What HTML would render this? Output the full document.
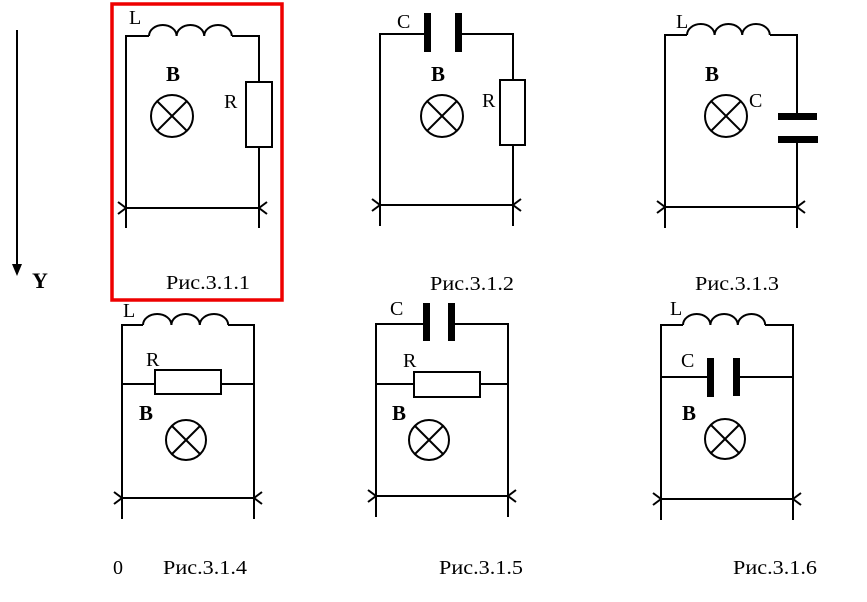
<!DOCTYPE html>
<html><head><meta charset="utf-8"><style>
html,body{margin:0;padding:0;background:#fff;}
svg{display:block;}
text{font-family:"Liberation Serif",serif;fill:#000;}
.lbl{font-size:20px;}
.b{font-size:21px;font-weight:bold;}
.cap{font-size:20px;}
</style></head><body>
<svg width="867" height="602" viewBox="0 0 867 602" xmlns="http://www.w3.org/2000/svg">
<g stroke="#000" stroke-width="2" fill="none">
<line x1="17" y1="30" x2="17" y2="266"/>
</g>
<polygon points="12,264 22,264 17,276" fill="#000"/>
<text x="32" y="288" class="b" style="font-size:22px">Y</text>

<rect x="112" y="4" width="170" height="296" fill="none" stroke="#e00" stroke-width="3.5"/>

<g stroke="#000" stroke-width="2" fill="none">
<path d="M126,228 V36 H149 M232,36 H259 V82 M259,147 V228"/>
<path d="M149,36 a13.8,11 0 0 1 27.6,0 a13.8,11 0 0 1 27.6,0 a13.8,11 0 0 1 27.6,0"/>
<rect x="246" y="82" width="26" height="65"/>
<line x1="126" y1="208" x2="259" y2="208"/>
<path d="M118,202 L126,208 L118,214 M267,202 L259,208 L267,214"/>
<circle cx="172" cy="116" r="21"/>
<path d="M157,101 L187,131 M187,101 L157,131"/>

<path d="M380,226 V34 H427 M457,34 H513 V80 M513,145 V226"/>
<rect x="500" y="80" width="25" height="65"/>
<line x1="380" y1="205" x2="513" y2="205"/>
<path d="M372,199 L380,205 L372,211 M521,199 L513,205 L521,211"/>
<circle cx="442" cy="116" r="21"/>
<path d="M427,101 L457,131 M457,101 L427,131"/>

<path d="M665,228 V35 H687 M770,35 H797 V116 M797,139 V228"/>
<path d="M687,35 a13.8,11 0 0 1 27.6,0 a13.8,11 0 0 1 27.6,0 a13.8,11 0 0 1 27.6,0"/>
<line x1="665" y1="207" x2="797" y2="207"/>
<path d="M657,201 L665,207 L657,213 M805,201 L797,207 L805,213"/>
<circle cx="726" cy="116" r="21"/>
<path d="M711,101 L741,131 M741,101 L711,131"/>

<path d="M122,519 V325 H143 M228,325 H254 V519"/>
<path d="M143,325 a14.2,11 0 0 1 28.4,0 a14.2,11 0 0 1 28.4,0 a14.2,11 0 0 1 28.4,0"/>
<path d="M122,384 H155 M221,384 H254"/>
<rect x="155" y="370" width="66" height="24"/>
<line x1="122" y1="498" x2="254" y2="498"/>
<path d="M114,492 L122,498 L114,504 M262,492 L254,498 L262,504"/>
<circle cx="186" cy="440" r="20"/>
<path d="M172,426 L200,454 M200,426 L172,454"/>

<path d="M376,517 V324 H426 M452,324 H508 V517"/>
<path d="M376,384 H414 M480,384 H508"/>
<rect x="414" y="372" width="66" height="25"/>
<line x1="376" y1="496" x2="508" y2="496"/>
<path d="M368,490 L376,496 L368,502 M516,490 L508,496 L516,502"/>
<circle cx="429" cy="440" r="20"/>
<path d="M415,426 L443,454 M443,426 L415,454"/>

<path d="M661,520 V325 H683 M765,325 H793 V520"/>
<path d="M683,325 a13.7,11 0 0 1 27.4,0 a13.7,11 0 0 1 27.4,0 a13.7,11 0 0 1 27.4,0"/>
<path d="M661,377 H709 M736,377 H793"/>
<line x1="661" y1="499" x2="793" y2="499"/>
<path d="M653,493 L661,499 L653,505 M801,493 L793,499 L801,505"/>
<circle cx="725" cy="439" r="20"/>
<path d="M711,425 L739,453 M739,425 L711,453"/>
</g>

<g fill="#000">
<rect x="424" y="13" width="7" height="39"/>
<rect x="455" y="13" width="7" height="39"/>
<rect x="778" y="113" width="39" height="7"/>
<rect x="778" y="136" width="40" height="7"/>
<rect x="423" y="303" width="7" height="38"/>
<rect x="448" y="303" width="7" height="38"/>
<rect x="707" y="358" width="7" height="39"/>
<rect x="733" y="358" width="7" height="38"/>
</g>

<text x="129" y="24" class="lbl">L</text>
<text x="166" y="81" class="b">B</text>
<text x="224" y="108" class="lbl">R</text>
<text x="166" y="289" class="cap" textLength="84" lengthAdjust="spacingAndGlyphs">Рис.3.1.1</text>

<text x="397" y="28" class="lbl">C</text>
<text x="431" y="81" class="b">B</text>
<text x="482" y="107" class="lbl">R</text>
<text x="430" y="290" class="cap" textLength="84" lengthAdjust="spacingAndGlyphs">Рис.3.1.2</text>

<text x="676" y="28" class="lbl">L</text>
<text x="705" y="81" class="b">B</text>
<text x="749" y="107" class="lbl">C</text>
<text x="695" y="290" class="cap" textLength="84" lengthAdjust="spacingAndGlyphs">Рис.3.1.3</text>

<text x="123" y="317" class="lbl">L</text>
<text x="146" y="366" class="lbl">R</text>
<text x="139" y="420" class="b">B</text>
<text x="113" y="574" class="cap">0</text>
<text x="163" y="574" class="cap" textLength="84" lengthAdjust="spacingAndGlyphs">Рис.3.1.4</text>

<text x="390" y="315" class="lbl">C</text>
<text x="403" y="367" class="lbl">R</text>
<text x="392" y="420" class="b">B</text>
<text x="439" y="574" class="cap" textLength="84" lengthAdjust="spacingAndGlyphs">Рис.3.1.5</text>

<text x="670" y="315" class="lbl">L</text>
<text x="681" y="367" class="lbl">C</text>
<text x="682" y="420" class="b">B</text>
<text x="733" y="574" class="cap" textLength="84" lengthAdjust="spacingAndGlyphs">Рис.3.1.6</text>
</svg>
</body></html>
